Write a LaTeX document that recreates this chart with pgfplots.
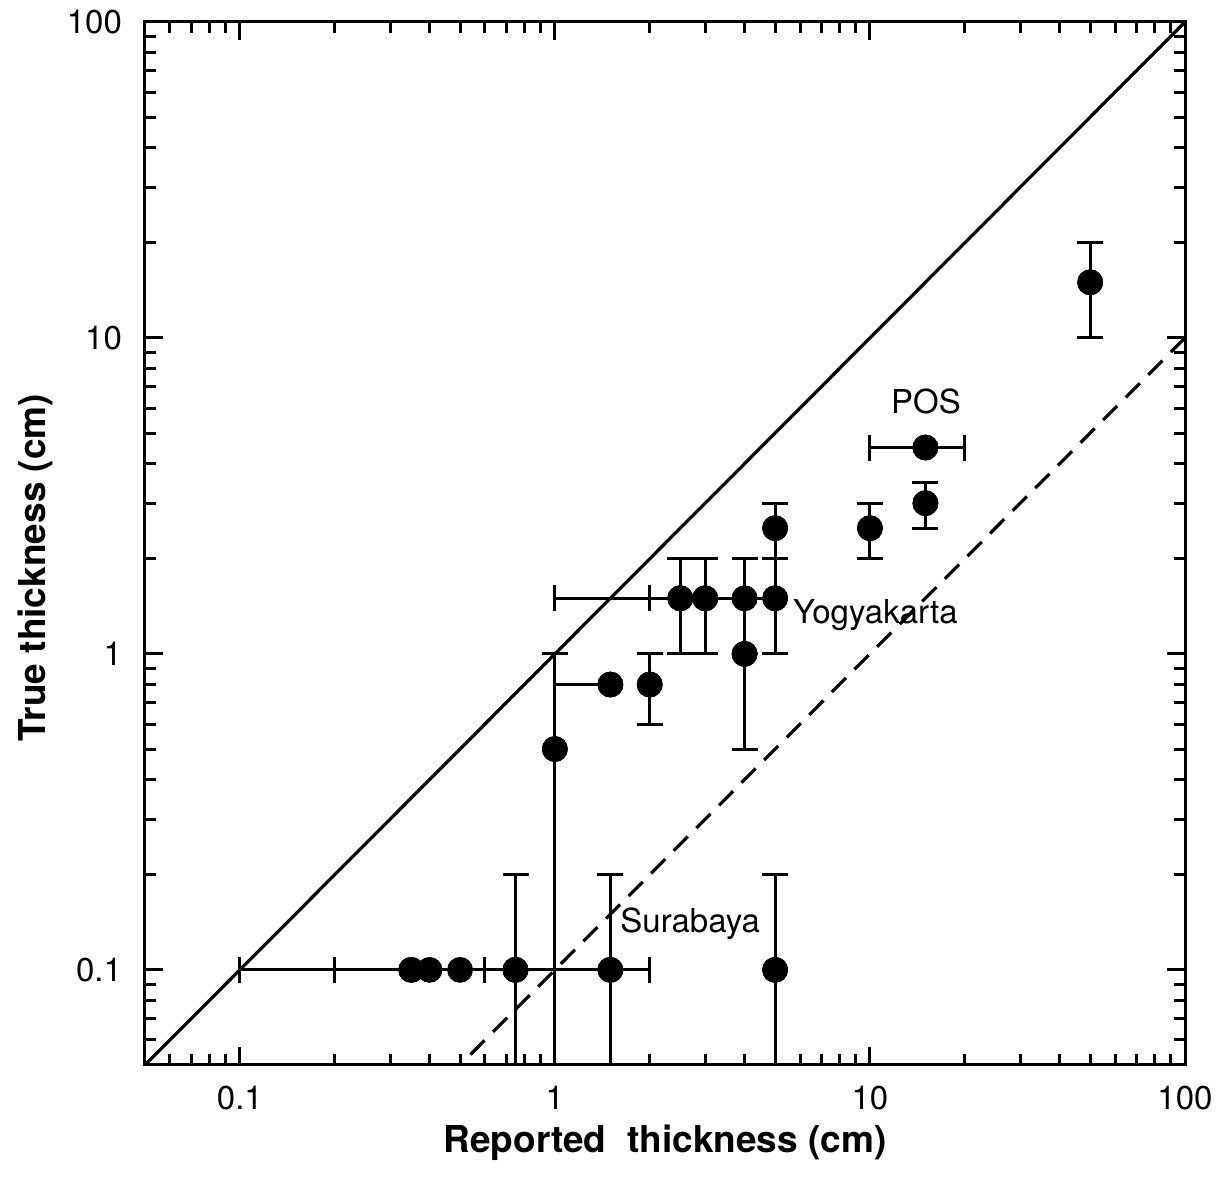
\documentclass[border=0pt]{standalone}
\usepackage{pgfplots}
\pgfplotsset{compat=1.18}
\usepackage{pgfplotstable}
\usepackage{fontspec}
\setmainfont{TeX Gyre Heros}

% points with x error bars: x y minus plus
\pgfplotstableread{
x    y    xm    xp
0.35 0.1  0.25  0.25
0.75 0.1  0.55  1.25
1.5  0.8  0.5   0
2.5  1.5  1.5   2.5
3    1.5  1     1
15   4.5  5     5
}\xerrtab

% points with y error bars
\pgfplotstableread{
x    y    ym    yp
0.75 0.1  0.09  0.1
1.5  0.1  0.09  0.1
5    0.1  0.09  0.1
1    0.5  0.49  0.5
2    0.8  0.2   0.2
2.5  1.5  0.5   0.5
3    1.5  0.5   0.5
4    1.5  0.5   0.5
5    1.5  0.5   0.5
4    1    0.5   0.5
5    2.5  0.5   0.5
10   2.5  0.5   0.5
15   3    0.5   0.5
50   15   5     5
}\yerrtab

% all points
\pgfplotstableread{
x    y
0.35 0.1
0.4  0.1
0.5  0.1
0.75 0.1
1.5  0.1
5    0.1
1    0.5
1.5  0.8
2    0.8
2.5  1.5
3    1.5
4    1.5
5    1.5
4    1
5    2.5
10   2.5
15   3
15   4.5
50   15
}\alltab

\begin{document}
\begin{tikzpicture}
\begin{axis}[
    scale only axis,
    width=520pt, height=521.5pt,
    xmode=log, ymode=log,
    xmin=0.05, xmax=100, ymin=0.05, ymax=100,
    xtick={0.1,1,10,100}, xticklabels={0.1,1,10,100},
    ytick={0.1,1,10,100}, yticklabels={0.1,1,10,100},
    minor xtick={0.06,0.07,0.08,0.09,0.2,0.3,0.4,0.5,0.6,0.7,0.8,0.9,2,3,4,5,6,7,8,9,20,30,40,50,60,70,80,90},
    minor ytick={0.06,0.07,0.08,0.09,0.2,0.3,0.4,0.5,0.6,0.7,0.8,0.9,2,3,4,5,6,7,8,9,20,30,40,50,60,70,80,90},
    tick align=inside,
    major tick length=9pt, minor tick length=5.5pt,
    every tick/.style={line width=1.5pt, black},
    axis line style={line width=1.5pt},
    tick label style={font=\fontsize{16.5}{19}\selectfont},
    xticklabel style={yshift=-7pt},
    yticklabel style={xshift=-8pt},
    xlabel={Reported\ \ thickness (cm)},
    ylabel={True thickness (cm)},
    label style={font=\fontsize{18.5}{22}\selectfont\bfseries},
    xlabel style={at={(axis description cs:0.5,0)}, anchor=center, yshift=-39pt},
    ylabel style={at={(axis description cs:0,0.5)}, anchor=center, yshift=55pt, xshift=-12pt},
    error bars/error bar style={line width=1.5pt, black},
    error bars/error mark options={line width=1.5pt, black, mark size=6.5pt, rotate=90},
]
\addplot[line width=1.6pt, black] coordinates {(0.05,0.05) (100,100)};
\addplot[line width=1.6pt, black, dash pattern=on 10pt off 6pt] coordinates {(100,10) (0.5,0.05)};

\addplot[only marks, mark=*, mark size=6.25pt, black,
    error bars/.cd, x dir=both, x explicit]
    table[x=x, y=y, x error plus=xp, x error minus=xm]{\xerrtab};
\addplot[only marks, mark=*, mark size=6.25pt, black,
    error bars/.cd, y dir=both, y explicit]
    table[x=x, y=y, y error plus=yp, y error minus=ym]{\yerrtab};
\addplot[only marks, mark=*, mark size=6.25pt, black] table[x=x, y=y]{\alltab};

\node[font=\fontsize{16.5}{19}\selectfont] at (axis cs:15.06,6.3) {POS};
\node[font=\fontsize{16.5}{19}\selectfont, anchor=west, inner sep=0pt] at (axis cs:5.69,1.33) {Yogyakarta};
\node[font=\fontsize{16.5}{19}\selectfont, anchor=west, inner sep=0pt] at (axis cs:1.61,0.14) {Surabaya};
\end{axis}
\path ([shift={(-72.5pt,-65.5pt)}]current axis.south west) rectangle ([shift={(18pt,11pt)}]current axis.north east);
\end{tikzpicture}
\end{document}
